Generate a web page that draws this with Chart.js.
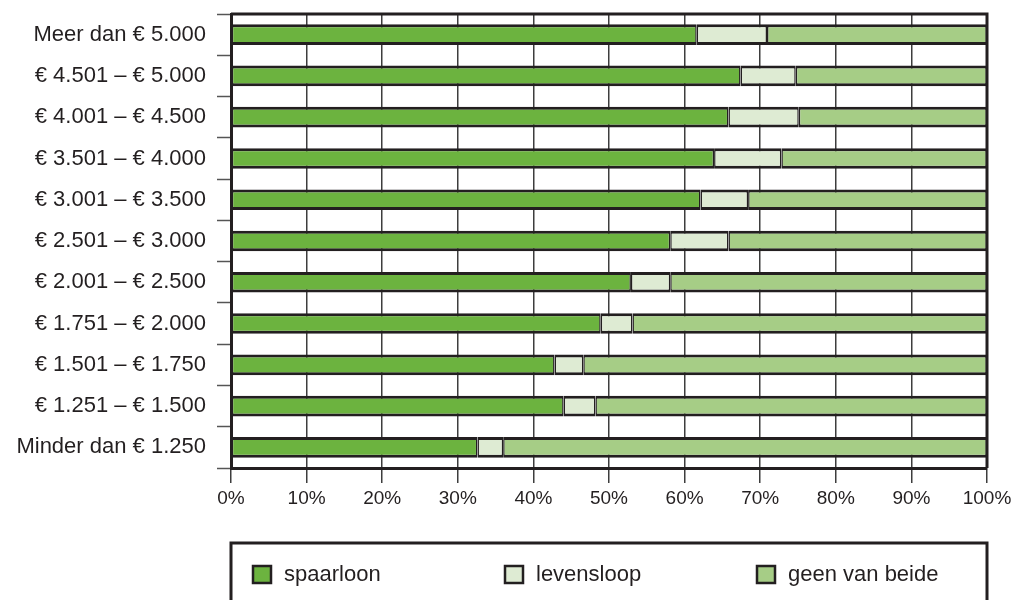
<!DOCTYPE html>
<html lang="nl">
<head>
<meta charset="utf-8">
<title>Spaarloon en levensloop naar inkomen</title>
<script src="https://cdn.jsdelivr.net/npm/chart.js@4"></script>
<style>
  html, body { margin: 0; padding: 0; background: #ffffff; }
  #wrap { width: 1016px; height: 600px; }
</style>
</head>
<body>
<div id="wrap"><canvas id="chart" width="1016" height="600"></canvas></div>
<script>
// Inkomensklassen, van hoog naar laag
const categories = [
  'Meer dan € 5.000',
  '€ 4.501 – € 5.000',
  '€ 4.001 – € 4.500',
  '€ 3.501 – € 4.000',
  '€ 3.001 – € 3.500',
  '€ 2.501 – € 3.000',
  '€ 2.001 – € 2.500',
  '€ 1.751 – € 2.000',
  '€ 1.501 – € 1.750',
  '€ 1.251 – € 1.500',
  'Minder dan € 1.250'
];

// Aandelen in procenten per klasse
const spaarloon     = [61.6, 67.4, 65.8, 63.9, 62.1, 58.1, 52.9, 48.9, 42.8, 44.0, 32.6];
const levensloop    = [ 9.3,  7.3,  9.3,  8.9,  6.3,  7.7,  5.2,  4.2,  3.8,  4.2,  3.4];
const geenVanBeide  = [29.1, 25.3, 24.9, 27.2, 31.6, 34.2, 41.9, 46.9, 53.4, 51.8, 64.0];

const seriesNames = ['spaarloon', 'levensloop', 'geen van beide'];
const xTicks = [0, 10, 20, 30, 40, 50, 60, 70, 80, 90, 100];

const INK = '#231f20';
const FONT = 'Arial, "Liberation Sans", Helvetica, sans-serif';
const colors = ['#6cb33f', '#deebd3', '#a6cd86'];

function makeSet(label, data, color) {
  return {
    label: label,
    data: data,
    backgroundColor: color,
    borderColor: INK,
    borderWidth: { top: 3, bottom: 3, left: 1.5, right: 1.5 },
    borderSkipped: false,
    barPercentage: 0.5,
    categoryPercentage: 1.0
  };
}

// Kader rond het plotgebied
const frame = {
  id: 'frame',
  afterDatasetsDraw(chart) {
    const { ctx, chartArea: a } = chart;
    ctx.save();
    ctx.strokeStyle = INK;
    ctx.lineWidth = 3;
    ctx.beginPath();
    ctx.moveTo(a.left, a.top);
    ctx.lineTo(a.right, a.top);
    ctx.lineTo(a.right, a.bottom);
    ctx.stroke();
    ctx.restore();
  }
};

// Legenda in een kader onder de grafiek, drie gelijke kolommen
const boxLegend = {
  id: 'boxLegend',
  afterDraw(chart) {
    const { ctx, chartArea: a } = chart;
    const top = 543;
    const colW = (a.right - a.left) / 3;
    ctx.save();
    ctx.strokeStyle = INK;
    ctx.lineWidth = 3;
    ctx.strokeRect(a.left, top, a.right - a.left, 100);
    ctx.font = '22px ' + FONT;
    ctx.textBaseline = 'middle';
    ctx.textAlign = 'left';
    chart.data.datasets.forEach((ds, i) => {
      const x = a.left + 22 + i * colW;
      const cy = 575;
      ctx.fillStyle = ds.backgroundColor;
      ctx.fillRect(x, cy - 9, 18, 17);
      ctx.lineWidth = 2.5;
      ctx.strokeStyle = INK;
      ctx.strokeRect(x, cy - 9, 18, 17);
      ctx.fillStyle = INK;
      ctx.fillText(ds.label, x + 31, cy);
    });
    ctx.restore();
  }
};

new Chart(document.getElementById('chart'), {
  type: 'bar',
  data: {
    labels: categories,
    datasets: [
      makeSet(seriesNames[0], spaarloon, colors[0]),
      makeSet(seriesNames[1], levensloop, colors[1]),
      makeSet(seriesNames[2], geenVanBeide, colors[2])
    ]
  },
  options: {
    indexAxis: 'y',
    responsive: false,
    animation: false,
    devicePixelRatio: 1,
    layout: { padding: { top: 14, right: 29, left: 0, bottom: 0 } },
    plugins: {
      legend: { display: false },
      tooltip: { enabled: false }
    },
    scales: {
      x: {
        stacked: true,
        min: 0,
        max: 100,
        afterBuildTicks(scale) {
          scale.ticks = xTicks.map(v => ({ value: v }));
        },
        afterFit(scale) { scale.height = 132; },
        ticks: {
          callback: v => v + '%',
          color: INK,
          font: { family: FONT, size: 19 },
          padding: 4,
          maxRotation: 0
        },
        grid: {
          color: '#3d3d3d',
          lineWidth: 1.5,
          tickLength: 15,
          tickColor: '#3d3d3d',
          tickWidth: 1.5
        },
        border: { color: INK, width: 3 }
      },
      y: {
        stacked: true,
        afterFit(scale) {
          scale.width = 231;
          scale.paddingTop = 0;
          scale.paddingBottom = 0;
        },
        ticks: {
          color: INK,
          font: { family: FONT, size: 22 },
          padding: 11
        },
        grid: {
          offset: true,
          drawOnChartArea: false,
          tickLength: 14,
          tickColor: '#555555',
          tickWidth: 1.5
        },
        border: { color: INK, width: 3 }
      }
    }
  },
  plugins: [frame, boxLegend]
});
</script>
</body>
</html>
